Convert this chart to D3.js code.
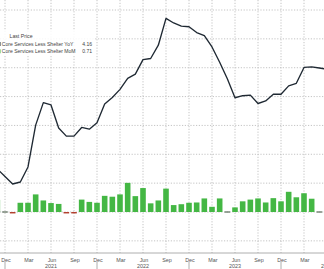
<!DOCTYPE html>
<html><head><meta charset="utf-8">
<script src="https://cdn.jsdelivr.net/npm/d3@7"></script>
<style>
html,body{margin:0;padding:0;background:#fff;overflow:hidden;}
svg{display:block;}
text{font-family:"Liberation Sans",Arial,sans-serif;}
</style></head><body>
<svg id="c" width="324" height="269"></svg>
<script>
// Months from Nov 2020 (index -1) to Jun 2024 (index 42); index 0 = Dec 2020
const months = ["2020-11","2020-12","2021-01","2021-02","2021-03","2021-04","2021-05","2021-06","2021-07","2021-08","2021-09","2021-10","2021-11","2021-12",
"2022-01","2022-02","2022-03","2022-04","2022-05","2022-06","2022-07","2022-08","2022-09","2022-10","2022-11","2022-12",
"2023-01","2023-02","2023-03","2023-04","2023-05","2023-06","2023-07","2023-08","2023-09","2023-10","2023-11","2023-12",
"2024-01","2024-02","2024-03","2024-04","2024-05","2024-06"];
// Core Services Less Shelter YoY (%)
const yoy = [1.49,1.23,0.97,1.04,1.56,3.01,3.79,3.71,2.91,2.63,2.63,2.93,2.87,3.09,
3.74,3.97,4.25,4.63,4.78,5.28,5.32,5.78,6.71,6.55,6.44,6.42,
6.22,6.11,5.72,5.19,4.62,3.96,4.03,4.05,3.76,3.85,4.08,4.08,
4.37,4.46,5.01,5.03,4.99,4.95];
// Core Services Less Shelter MoM (%)
const mom = [0.42,0.02,-0.05,0.32,0.32,0.61,0.40,0.31,0.28,-0.05,-0.05,0.43,0.35,0.32,
0.56,0.53,0.61,1.01,0.55,0.83,0.30,0.40,0.81,0.24,0.27,0.32,
0.33,0.47,0.18,0.47,0.02,0.16,0.37,0.43,0.47,0.33,0.48,0.37,
0.70,0.51,0.65,0.46,0.02,null];
const quarterLabels = ["Dec","Mar","Jun","Sep","Dec","Mar","Jun","Sep","Dec","Mar","Jun","Sep","Dec","Mar"];
const yearLabels = ["2021","2022","2023","2024"];
const legendTitle = "Last Price";
const legendNames = ["Core Services Less Shelter YoY","Core Services Less Shelter MoM"];
const legendValues = ["4.16","0.71"];
const yTicks = [-1,0,1,2,3,4,5,6,7];

const svg = d3.select("#c");
const W = 324, H = 269, axisY = 253;
const idx = (i) => i - 1; // index relative to Dec 2020
const x = d3.scaleLinear().domain([0, 36]).range([5, 281]);
const y = d3.scaleLinear().domain([0, 7]).range([212, 10]);
const step = x(1) - x(0);
const bw = step * 0.73;

// horizontal grid
svg.append("g").selectAll("line").data(yTicks).join("line")
  .attr("x1", 0).attr("x2", W).attr("y1", d => y(d)).attr("y2", d => y(d))
  .attr("stroke", "#bdbdbd").attr("stroke-width", 0.9).attr("stroke-dasharray", "1.2,1.6");
// vertical grid
const qIdx = quarterLabels.map((d, i) => i * 3);
svg.append("g").selectAll("line").data(qIdx).join("line")
  .attr("x1", d => x(d)).attr("x2", d => x(d)).attr("y1", 0).attr("y2", axisY)
  .attr("stroke", "#bdbdbd").attr("stroke-width", 0.9).attr("stroke-dasharray", "1.2,1.6");

// bars
const barData = months.map((m, i) => ({i: idx(i), v: mom[i]})).filter(d => d.v !== null);
svg.append("g").selectAll("rect").data(barData).join("rect")
  .attr("x", d => x(d.i) - bw / 2).attr("width", bw)
  .attr("y", d => Math.abs(y(d.v) - y(0)) < 1.4 ? y(0) - 0.7 : Math.min(y(d.v), y(0)))
  .attr("height", d => Math.max(1.4, Math.abs(y(d.v) - y(0))))
  .attr("fill", d => d.v < 0 ? "#b3402f" : (d.v < 0.05 ? "#6f7f6f" : "#44b744"));

// line
const lineData = months.map((m, i) => ({i: idx(i), v: yoy[i]}));
svg.append("path").datum(lineData)
  .attr("d", d3.line().x(d => x(d.i)).y(d => y(d.v)))
  .attr("fill", "none").attr("stroke", "#1f2933").attr("stroke-width", 1.35).attr("stroke-linejoin", "round");

// x axis
svg.append("line").attr("x1", 0).attr("x2", W).attr("y1", axisY).attr("y2", axisY)
  .attr("stroke", "#9a9a9a").attr("stroke-width", 0.8);
const xa = svg.append("g");
xa.selectAll("text.q").data(quarterLabels).join("text").attr("class", "q")
  .attr("x", (d, i) => x(i * 3) + 1).attr("y", 261.5).attr("text-anchor", "middle")
  .attr("font-size", 5.4).attr("fill", "#555").text(d => d);
// year separators
const sepIdx = [0, 12, 24, 36];
xa.selectAll("line.s").data(sepIdx).join("line").attr("class", "s")
  .attr("x1", d => x(d)).attr("x2", d => x(d)).attr("y1", 262).attr("y2", H)
  .attr("stroke", "#9a9a9a").attr("stroke-width", 0.8);
xa.selectAll("text.y").data(yearLabels).join("text").attr("class", "y")
  .attr("x", (d, i) => x(i * 12 + 6)).attr("y", 267.5).attr("text-anchor", "middle")
  .attr("font-size", 5.4).attr("fill", "#555").text(d => d);

// legend
const lg = svg.append("g");
lg.append("rect").attr("x", 0).attr("y", 30).attr("width", 95).attr("height", 26)
  .attr("fill", "#fff").attr("opacity", 0.85);
lg.append("text").attr("x", 9.5).attr("y", 38).attr("font-size", 5.2).attr("fill", "#444").text(legendTitle);
const colors = ["#1f2933", "#44b744"];
legendNames.forEach((n, k) => {
  const yy = 46 + k * 7.3;
  lg.append("rect").attr("x", -2).attr("y", yy - 4).attr("width", 2.5).attr("height", 4).attr("fill", colors[k]);
  lg.append("text").attr("x", 1.8).attr("y", yy).attr("font-size", 5.05).attr("fill", "#444").text(n);
  lg.append("text").attr("x", 92).attr("y", yy).attr("text-anchor", "end").attr("font-size", 5.05).attr("fill", "#444").text(legendValues[k]);
});
</script>
</body></html>
